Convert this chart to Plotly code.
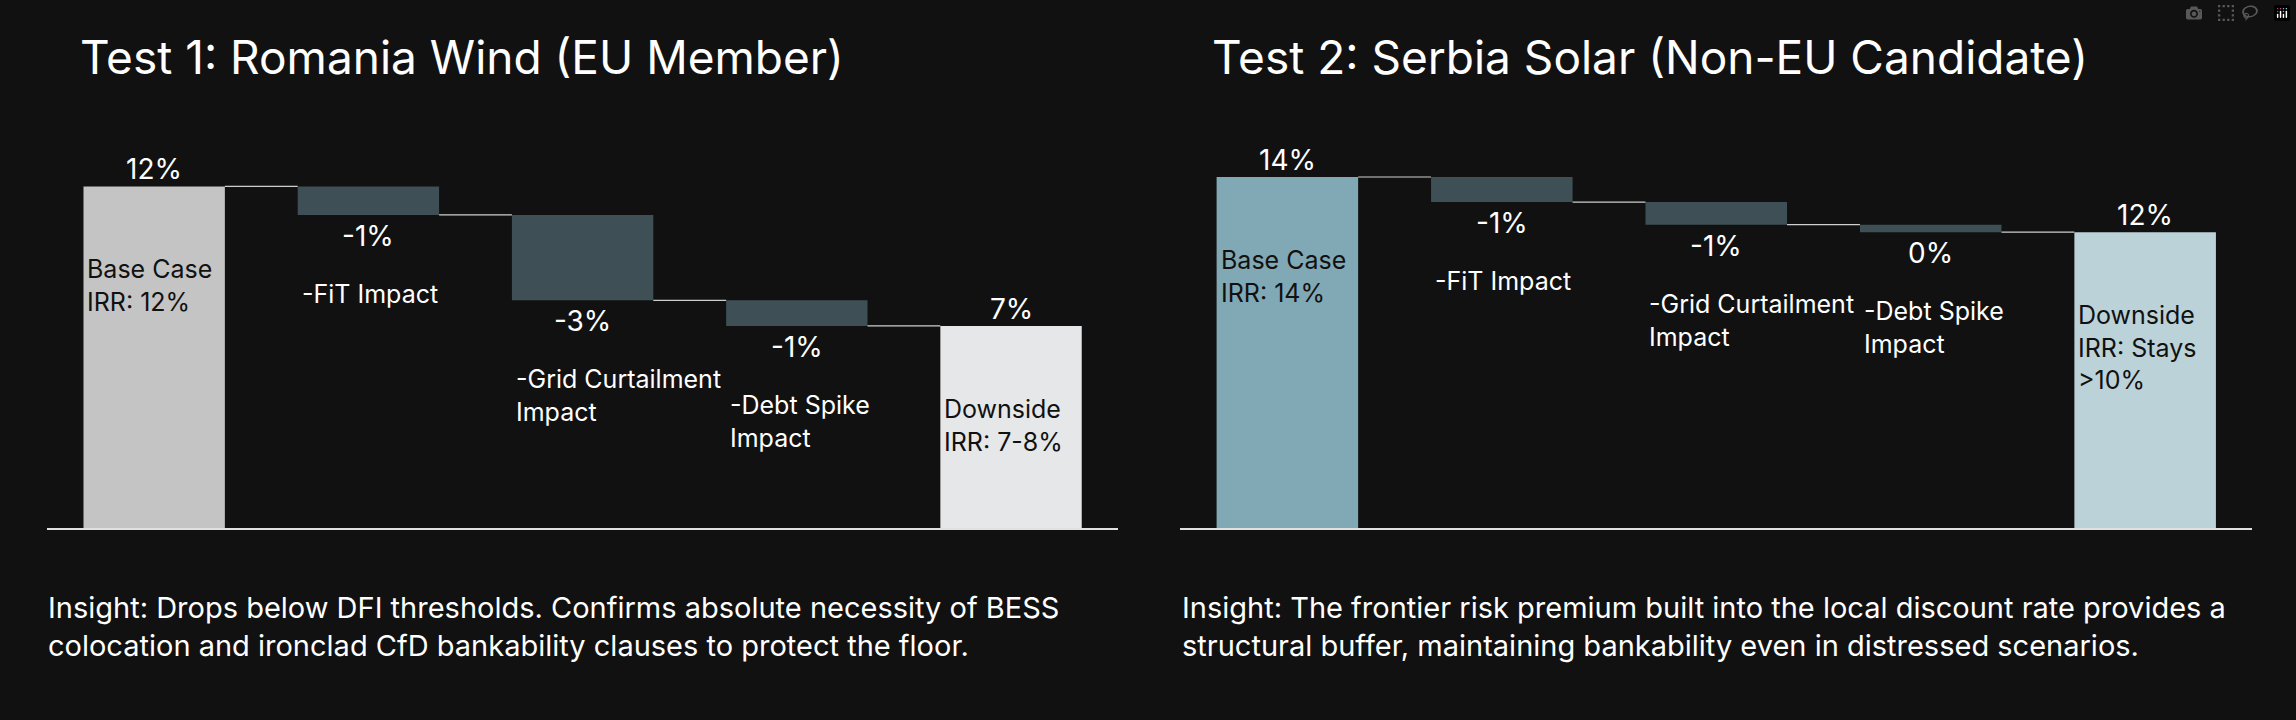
import plotly.graph_objects as go

cats = ["Base Case", "-FiT Impact", "-Grid Curtailment", "-Debt Spike", "Downside"]
cat_labels_1 = ["Base Case<br>IRR: 12%", "-FiT Impact", "-Grid Curtailment<br>Impact", "-Debt Spike<br>Impact", "Downside<br>IRR: 7-8%"]
cat_labels_2 = ["Base Case<br>IRR: 14%", "-FiT Impact", "-Grid Curtailment<br>Impact", "-Debt Spike<br>Impact", "Downside<br>IRR: Stays<br>>10%"]
steps_1 = [12.0, -1.0, -3.0, -0.9]
steps_2 = [14.0, -1.0, -0.9, -0.3]
value_labels_1 = ["12%", "-1%", "-3%", "-1%", "7%"]
value_labels_2 = ["14%", "-1%", "-1%", "0%", "12%"]
colors_1 = ["#c4c4c4", "#3e4f55", "#3e4f55", "#3e4f55", "#e6e7e9"]
colors_2 = ["#81a8b5", "#3e4f55", "#3e4f55", "#3e4f55", "#bcd2d9"]
titles = ["Test 1: Romania Wind (EU Member)", "Test 2: Serbia Solar (Non-EU Candidate)"]
insights = [
    "Insight: Drops below DFI thresholds. Confirms absolute necessity of BESS<br>colocation and ironclad CfD bankability clauses to protect the floor.",
    "Insight: The frontier risk premium built into the local discount rate provides a<br>structural buffer, maintaining bankability even in distressed scenarios.",
]

FONT = "Inter"
BW = 0.66
fig = go.Figure()
annotations = []
panels = [
    (steps_1, cat_labels_1, value_labels_1, colors_1, "x", "y", 13.0),
    (steps_2, cat_labels_2, value_labels_2, colors_2, "x2", "y2", 14.76),
]
for steps, clabels, vlabels, colors, xa, ya, ymax in panels:
    final = sum(steps)
    bases, heights = [], []
    level = 0.0
    for i, s in enumerate(steps):
        if i == 0:
            bases.append(0.0); heights.append(s); level = s
        else:
            bases.append(level + s); heights.append(-s); level += s
    bases.append(0.0); heights.append(final)
    xs = list(range(len(cats)))
    fig.add_trace(go.Bar(x=xs, y=heights, base=bases, marker=dict(color=colors, line=dict(width=0)),
                         width=BW, xaxis=xa, yaxis=ya, showlegend=False, hoverinfo="skip"))
    cx, cy = [], []
    for i in range(len(cats) - 1):
        lvl = bases[i] + heights[i] if (i == 0) else bases[i]
        cx += [i + BW / 2, i + 1 - BW / 2, None]
        cy += [lvl, lvl, None]
    fig.add_trace(go.Scatter(x=cx, y=cy, mode="lines", line=dict(color="#cfcfcf", width=1.2),
                             xaxis=xa, yaxis=ya, showlegend=False, hoverinfo="skip"))
    for i in xs:
        top = bases[i] + heights[i]
        is_total = i in (0, len(cats) - 1)
        if is_total:
            annotations.append(dict(x=i, y=top, xref=xa, yref=ya, text=vlabels[i], showarrow=False,
                                    yanchor="bottom", yshift=-2, font=dict(family=FONT, size=28, color="#ffffff")))
            annotations.append(dict(x=i - BW / 2, y=top, xref=xa, yref=ya, text=clabels[i], showarrow=False,
                                    xanchor="left", yanchor="top", align="left", xshift=2, yshift=-66,
                                    font=dict(family=FONT, size=25, color="#111111")))
        else:
            bottom = bases[i]
            annotations.append(dict(x=i, y=bottom, xref=xa, yref=ya, text=vlabels[i], showarrow=False,
                                    yanchor="top", yshift=-2, font=dict(family=FONT, size=28, color="#ffffff")))
            annotations.append(dict(x=i - BW / 2, y=bottom, xref=xa, yref=ya, text=clabels[i], showarrow=False,
                                    xanchor="left", yanchor="top", align="left", xshift=2, yshift=-62,
                                    font=dict(family=FONT, size=25, color="#ffffff")))
    fig.update_layout(**{
        ("xaxis" if xa == "x" else "xaxis2"): dict(range=[-0.5, 4.5], showticklabels=False, showgrid=False,
                                                   zeroline=False, fixedrange=True),
        ("yaxis" if ya == "y" else "yaxis2"): dict(range=[0, ymax], showticklabels=False, showgrid=False,
                                                   zeroline=False, fixedrange=True),
    })

for tx, ix, title, ins in [(0.034, 0.020, titles[0], insights[0]), (0.527, 0.514, titles[1], insights[1])]:
    annotations.append(dict(x=tx, y=0.921, xref="paper", yref="paper", text=title, showarrow=False,
                            xanchor="left", yanchor="middle", font=dict(family=FONT, size=46, color="#ffffff")))
    annotations.append(dict(x=ix, y=0.130, xref="paper", yref="paper", text=ins, showarrow=False,
                            xanchor="left", yanchor="middle", align="left",
                            font=dict(family=FONT, size=29, color="#ffffff")))

fig.update_layout(
    width=2296, height=720, margin=dict(l=0, r=0, t=0, b=0),
    paper_bgcolor="#111111", plot_bgcolor="#111111",
    barmode="overlay", annotations=annotations,
    xaxis=dict(domain=[0.0205, 0.487], showline=True, linecolor="#e0e0e0", linewidth=1.5, anchor="y"),
    yaxis=dict(domain=[0.2667, 0.7806], anchor="x"),
    xaxis2=dict(domain=[0.514, 0.981], showline=True, linecolor="#e0e0e0", linewidth=1.5, anchor="y2"),
    yaxis2=dict(domain=[0.2667, 0.7806], anchor="x2"),
)
fig.write_html("out.html",
               post_script="document.body.style.margin='0';document.body.style.background='#111111';")
